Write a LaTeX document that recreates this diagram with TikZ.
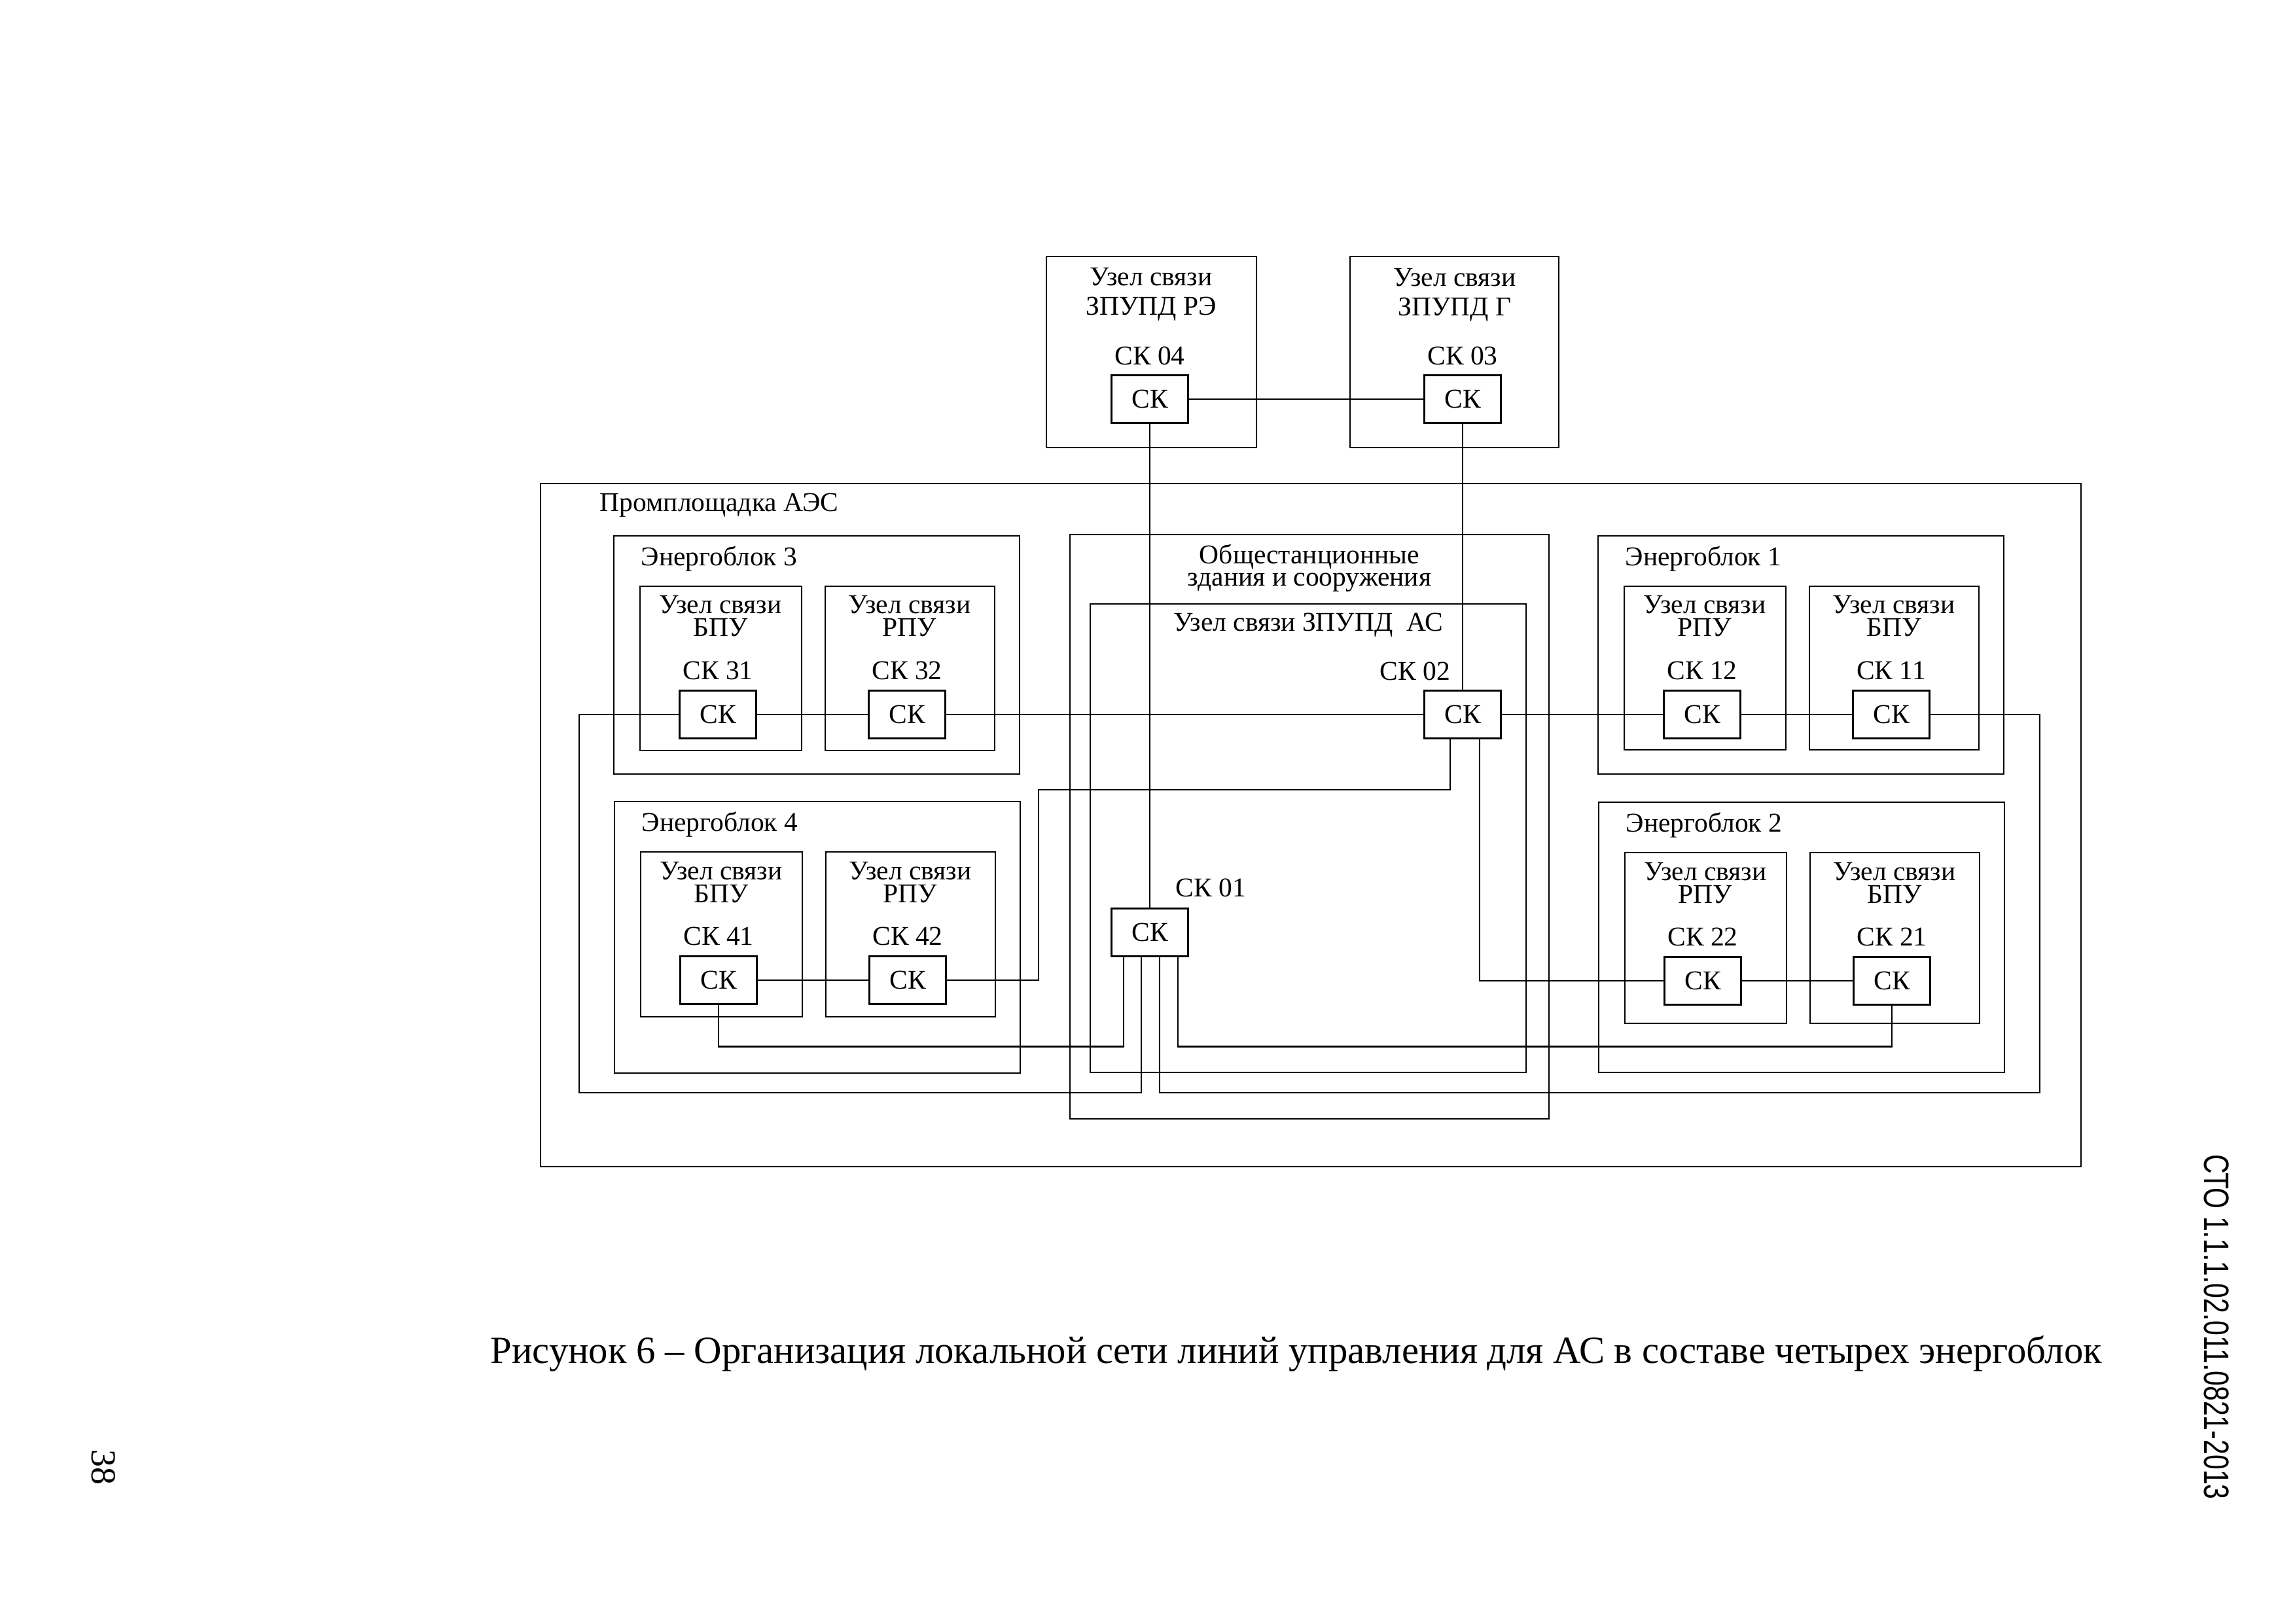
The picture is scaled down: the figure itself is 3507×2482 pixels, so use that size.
\documentclass[tikz,border=0pt]{standalone}
\usepackage{graphicx}
\usepackage{fontspec}
\setmainfont{Liberation Serif}
\newfontfamily\codefont{Liberation Sans}
\usetikzlibrary{positioning,fit,calc}

\tikzset{
  frame/.style={draw, line width=0.7pt, inner sep=0pt},
  skbox/.style={draw, line width=0.7pt, inner sep=0pt, minimum width=9.9mm, minimum height=6.2mm, font=\fontsize{10}{12}\selectfont},
  txt/.style={inner sep=0pt, anchor=base, font=\fontsize{10}{12}\selectfont},
  wire/.style={line width=0.7pt},
}

\begin{document}
\begin{tikzpicture}[x=0.084667mm, y=-0.084667mm]
    % Page
    \useasboundingbox (0,0) rectangle (3507,2482);

    % Site
    \node[frame, fit={(826,739) (3180,1783)}] (site) {};
    \node[txt, anchor=base west] (sitelbl) at (916,782) {Промплощадка АЭС};

    % Remote nodes
    \node[frame, fit={(1599,392) (1920,684)}] (re) {};
    \node[frame, fit={(2063,392) (2382,684)}] (gz) {};
    \node[txt] (re1) at (1759,437) {Узел связи};
    \node[txt] (re2) at (1759,482) {ЗПУПД РЭ};
    \node[txt] (gz1) at (2223,438) {Узел связи};
    \node[txt] (gz2) at (2223,483) {ЗПУПД Г};
    \node[skbox] (sk04) at (1757,610) {СК};
    \node[skbox] (sk03) at (2235,610) {СК};
    \node[txt, above=1.1mm of sk04] (l04) {СК 04};
    \node[txt, above=1.1mm of sk03] (l03) {СК 03};

    % Common buildings
    \node[frame, fit={(1635,817) (2367,1710)}] (obs) {};
    \node[txt] (obs1) at (2001,862) {Общестанционные};
    \node[txt] (obs2) at (2001,896) {здания и сооружения};
    \node[frame, fit={(1666,923) (2332,1639)}] (zas) {};
    \node[txt] (zas1) at (1999,965) {Узел связи ЗПУПД\ \ АС};
    \node[skbox] (sk02) at (2235,1092) {СК};
    \node[txt, anchor=base east] (l02) at (2217,1040) {СК 02};
    \node[skbox] (sk01) at (1757,1425) {СК};
    \node[txt, anchor=base west] (l01) at (1796,1370) {СК 01};

    % Energy blocks
    \foreach \k/\X/\Y/\H/\h/\tA/\tB/\nA/\nB in {3/938/819/364/251/БПУ/РПУ/31/32,
                                               4/939/1225/415/252/БПУ/РПУ/41/42,
                                               1/2442/819/364/250/РПУ/БПУ/12/11,
                                               2/2443/1226/413/261/РПУ/БПУ/22/21}{
        \node[frame, fit={(\X,\Y) (\X+620,\Y+\H)}] (eb\k) {};
        \node[txt, anchor=base west] (el\k) at (\X+41,\Y+46) {Энергоблок \k};
        \node[frame, fit={(\X+40,\Y+77) (\X+287,\Y+77+\h)}] (uz\nA) {};
        \node[frame, fit={(\X+323,\Y+77) (\X+582,\Y+77+\h)}] (uz\nB) {};
        \node[txt] (ta\nA) at (\X+163,\Y+119) {Узел связи};
        \node[txt] (tb\nA) at (\X+163,\Y+154) {\tA};
        \node[txt] (ta\nB) at (\X+452,\Y+119) {Узел связи};
        \node[txt] (tb\nB) at (\X+452,\Y+154) {\tB};
        \node[skbox] (sk\nA) at (\X+159,\Y+273) {СК};
        \node[skbox] (sk\nB) at (\X+448,\Y+273) {СК};
        \node[txt, above=1.2mm of sk\nA] (l\nA) {СК \nA};
        \node[txt, above=1.2mm of sk\nB] (l\nB) {СК \nB};
    }

    % Ports and bends
    \coordinate (p1) at ($(sk01.south)+(-40,0)$);
    \coordinate (p2) at ($(sk01.south)+(-13,0)$);
    \coordinate (p3) at ($(sk01.south)+(15,0)$);
    \coordinate (p4) at ($(sk01.south)+(43,0)$);
    \coordinate (q1) at ($(sk02.south)+(-19,0)$);
    \coordinate (q2) at ($(sk02.south)+(26,0)$);
    \coordinate (ringsw) at (885,1670);
    \coordinate (ringse) at (3117,1670);
    \coordinate (bend) at (1587,1207);

    % Links
    \draw[wire] (sk04) -- (sk03);
    \draw[wire] (sk04) -- (sk01);
    \draw[wire] (sk03) -- (sk02);
    \draw[wire] (sk31) -- (sk32);
    \draw[wire] (sk32) -- (sk02);
    \draw[wire] (sk02) -- (sk12);
    \draw[wire] (sk12) -- (sk11);
    \draw[wire] (sk41) -- (sk42);
    \draw[wire] (sk22) -- (sk21);
    \draw[wire] (p2) |- (ringsw) |- (sk31.west);
    \draw[wire] (p3) |- (ringse) |- (sk11.east);
    \draw[wire] (sk42.east) -| (bend) -| (q1);
    \draw[wire] (q2) |- (sk22.west);
    \draw[wire] (sk41.south) |- ($(p1)+(0,136)$) -- (p1);
    \draw[wire] (sk21.south) |- ($(p4)+(0,136)$) -- (p4);

    % Caption and page marks
    \node[inner sep=0pt, anchor=base, font=\fontsize{14.15}{17}\selectfont] (cap) at (1981,2083)
        {Рисунок 6 – Организация локальной сети линий управления для АС в составе четырех энергоблок};
    \node[inner sep=0pt, rotate=-90, font=\codefont\fontsize{13}{15}\selectfont] (code) at (3387,2028)
        {\scalebox{0.76}[1]{СТО 1.1.1.02.011.0821-2013}};
    \node[inner sep=0pt, rotate=-90, font=\fontsize{13}{15}\selectfont] (pg) at (158,2242) {38};
\end{tikzpicture}
\end{document}
